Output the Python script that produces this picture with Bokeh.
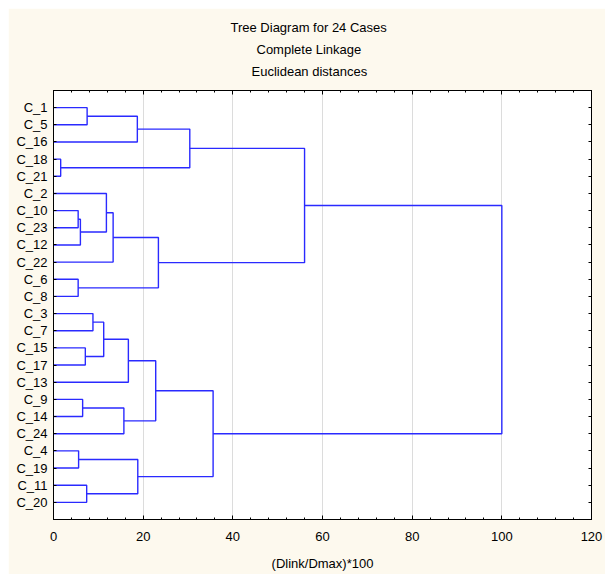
from bokeh.plotting import figure
from bokeh.models import Range1d, FixedTicker, LinearAxis, SingleIntervalTicker, Spacer, Title
from bokeh.layouts import column, row
from bokeh.embed import file_html
from bokeh.resources import INLINE

# ---- data -------------------------------------------------------------
leaves = ["C_1", "C_5", "C_16", "C_18", "C_21", "C_2", "C_10", "C_23", "C_12", "C_22",
          "C_6", "C_8", "C_3", "C_7", "C_15", "C_17", "C_13", "C_9", "C_14", "C_24",
          "C_4", "C_19", "C_11", "C_20"]
# merge k joins merge_a[k] and merge_b[k] (leaf name or index of an earlier merge)
merge_a = ["C_1", 0, "C_18", 1, "C_10", 4, "C_2", 6, "C_6", 7, 3,
           "C_3", "C_15", 11, 13, "C_9", 15, 14, "C_4", "C_11", 18, 17, 10]
merge_b = ["C_5", "C_16", "C_21", 2, "C_23", "C_12", 5, "C_22", "C_8", 8, 9,
           "C_7", "C_17", 12, "C_13", "C_14", "C_24", 16, "C_19", "C_20", 19, 20, 21]
merge_height = [7.5, 18.7, 1.6, 30.4, 5.5, 6.0, 11.8, 13.3, 5.5, 23.4, 56.0,
                8.8, 7.1, 11.2, 16.7, 6.5, 15.7, 22.8, 5.6, 7.4, 18.8, 35.6, 100.0]
title_lines = ["Tree Diagram for 24 Cases", "Complete Linkage", "Euclidean distances"]
x_label = "(Dlink/Dmax)*100"

# ---- build link paths -------------------------------------------------
leaf_pos = {name: i for i, name in enumerate(leaves)}
node_y, node_h = [], []


def pos_of(c):
    if isinstance(c, str):
        return leaf_pos[c], 0.0
    return node_y[c], node_h[c]


xs, ys = [], []
for a, b, h in zip(merge_a, merge_b, merge_height):
    ya, ha = pos_of(a)
    yb, hb = pos_of(b)
    xs.append([ha, h, h, hb])
    ys.append([ya, ya, yb, yb])
    node_y.append((ya + yb) / 2)
    node_h.append(h)

FONT = "Liberation Sans"
FS = "13px"
CREAM = "#fdf9ee"

p = figure(width=597, height=566, output_backend="svg", toolbar_location=None,
           x_range=Range1d(0, 120), y_range=Range1d(24, -1),
           min_border_left=45, min_border_right=14, min_border_top=82, min_border_bottom=55,
           background_fill_color="white", border_fill_color=CREAM,
           outline_line_color="black", outline_line_width=1)

p.multi_line(xs=xs, ys=ys, line_color="#2a2aff", line_width=1.4)

xticker = SingleIntervalTicker(interval=20, num_minor_ticks=5)
yticker = FixedTicker(ticks=list(range(len(leaves))))

# bottom axis
xa = p.xaxis[0]
xa.ticker = xticker
xa.axis_label = x_label
xa.axis_label_text_font = FONT
xa.axis_label_text_font_size = FS
xa.axis_label_text_font_style = "normal"
xa.axis_label_text_color = "black"
xa.axis_label_standoff = 12
xa.major_label_text_font = FONT
xa.major_label_text_font_size = FS
xa.major_label_text_color = "black"
xa.major_label_standoff = 12
xa.major_tick_in = 4
xa.major_tick_out = 0
xa.minor_tick_in = 2
xa.minor_tick_out = 0
xa.axis_line_color = "black"
xa.major_tick_line_color = "black"
xa.minor_tick_line_color = "black"

# left axis
ya_ = p.yaxis[0]
ya_.ticker = yticker
ya_.major_label_overrides = {i: n for i, n in enumerate(leaves)}
ya_.major_label_text_font = FONT
ya_.major_label_text_font_size = FS
ya_.major_label_text_color = "black"
ya_.major_label_standoff = 6
ya_.major_tick_in = 3
ya_.major_tick_out = 0
ya_.minor_tick_line_color = None
ya_.axis_line_color = "black"

# top and right axes (ticks only, no labels drawn)
top = LinearAxis(ticker=xticker, major_label_text_font_size="0px", major_label_text_color=None,
                 major_label_standoff=0,
                 major_tick_in=4, major_tick_out=0, minor_tick_in=2, minor_tick_out=0,
                 axis_line_color="black")
right = LinearAxis(ticker=yticker, major_label_text_font_size="0px", major_label_text_color=None,
                   major_label_standoff=0,
                   major_tick_in=3, major_tick_out=0, minor_tick_line_color=None,
                   axis_line_color="black")
p.add_layout(top, "above")
p.add_layout(right, "right")
# invisible spacer axis: keeps a gap between the frame and the title lines
gap = LinearAxis(ticker=xticker, major_label_text_font_size="0px", major_label_text_color=None,
                 major_label_standoff=0, major_tick_in=0, major_tick_out=9,
                 minor_tick_in=0, minor_tick_out=0, axis_line_color=None,
                 major_tick_line_color=None, minor_tick_line_color=None)
p.add_layout(gap, "above")

p.xgrid.ticker = xticker
p.xgrid.grid_line_color = "#dcdcdc"
p.ygrid.visible = False

# three-line title: one Title per line, added from the frame outwards
try:
    p.title = None
except Exception:
    p.title.text = ""
title_offsets = [177, 203, 198]
title_standoffs = [5, 5, 5]
for txt, off, so in reversed(list(zip(title_lines, title_offsets, title_standoffs))):
    p.add_layout(Title(text=txt, align="left", offset=off, standoff=so,
                       text_font=FONT, text_font_size=FS, text_font_style="normal",
                       text_color="black"), "above")

layout = column(Spacer(height=8), row(Spacer(width=8), p))
open("out.html", "w").write(file_html(layout, INLINE))
